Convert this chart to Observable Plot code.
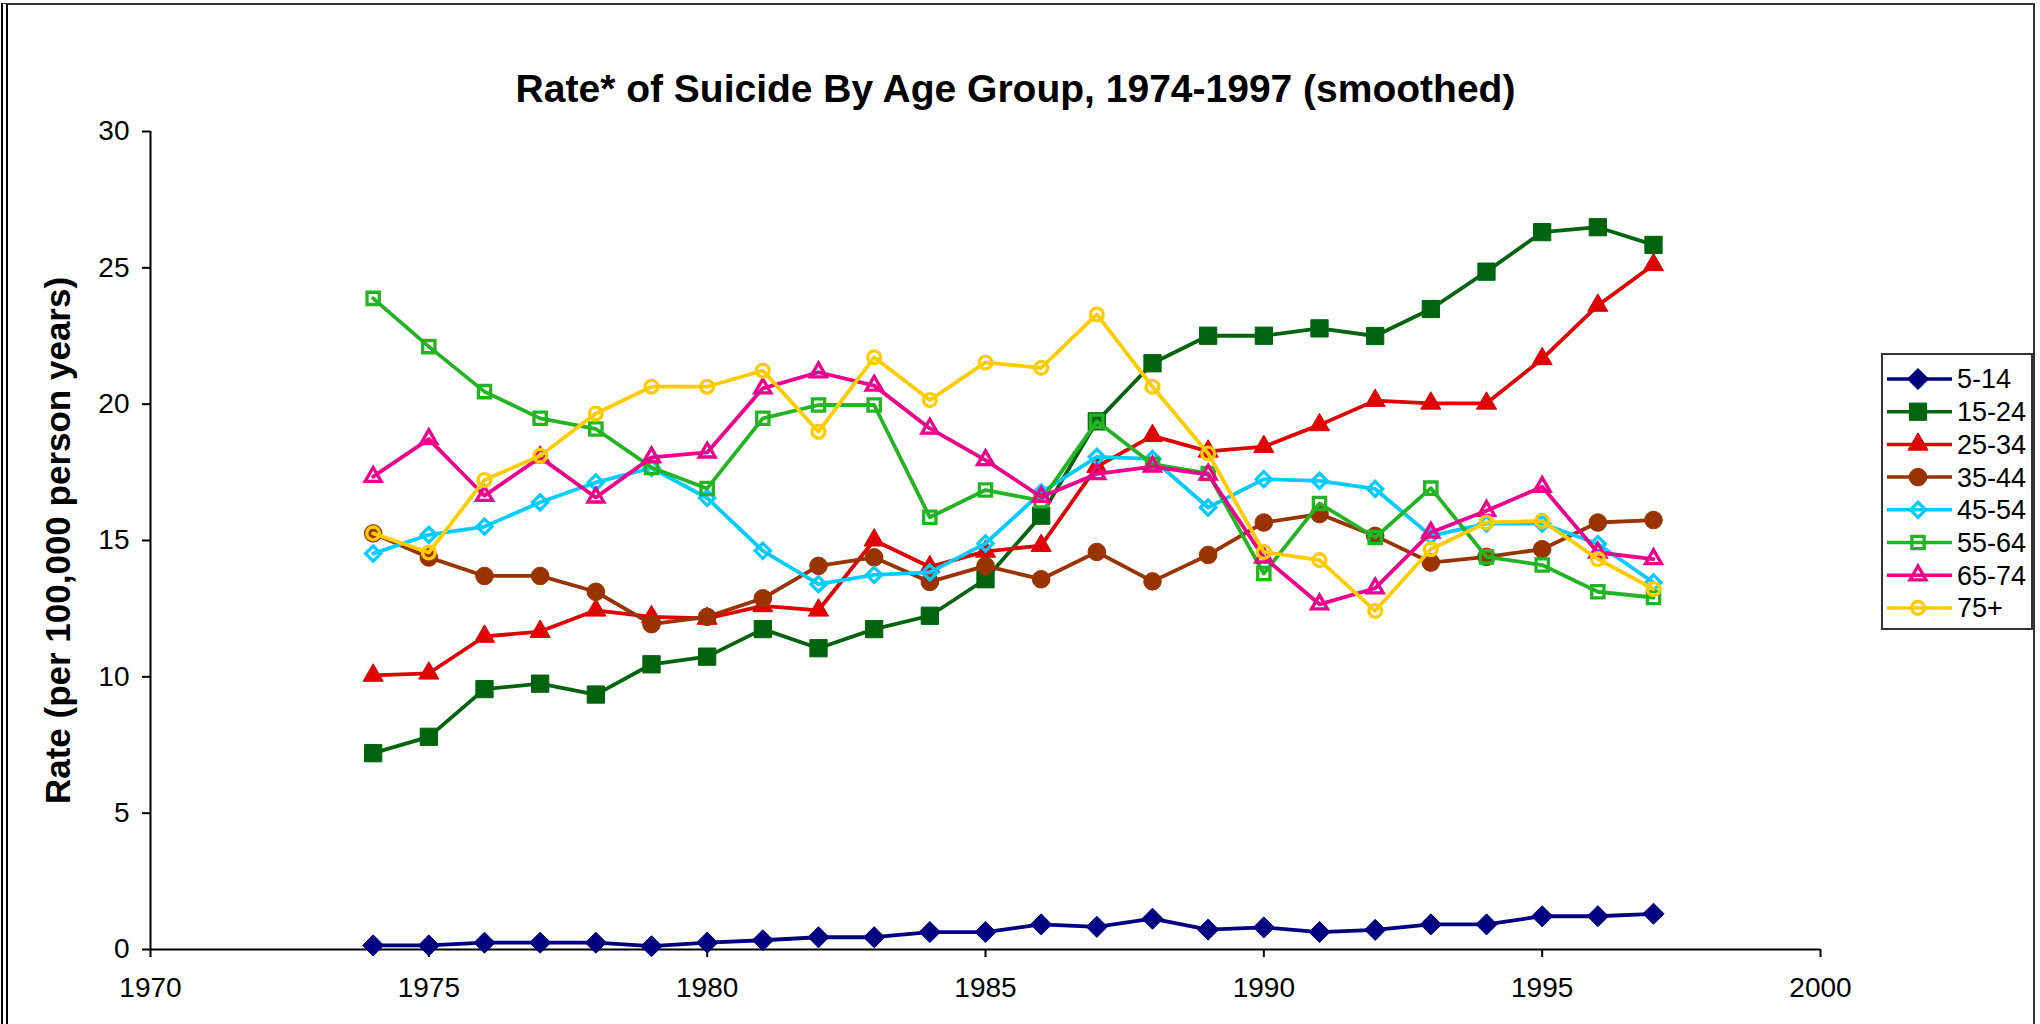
<!DOCTYPE html>
<html>
<head>
<meta charset="utf-8">
<script src="https://cdn.jsdelivr.net/npm/d3@7"></script>
<script src="https://cdn.jsdelivr.net/npm/@observablehq/plot@0.6"></script>
<style>
  html, body { margin: 0; padding: 0; background: #fff; }
  #fig { position: relative; width: 2040px; height: 1024px; overflow: hidden; background: #fff; font-family: 'Liberation Sans', Arial, sans-serif; }
  #frame { position: absolute; left: 1px; top: 3px; width: 2025px; height: 1040px; border-left: 7px double #000; border-top: 2px solid #333; border-right: 2px solid #333; }
  #chart { position: absolute; left: 0; top: 0; }
  #legend { position: absolute; left: 1881px; top: 353px; }
</style>
</head>
<body>
<div id="fig">
  <div id="frame"></div>
  <div id="chart"></div>
  <div id="legend"></div>
</div>
<script>
const title = "Rate* of Suicide By Age Group, 1974-1997 (smoothed)";
const yLabel = "Rate (per 100,000 person years)";

const years = [1974,1975,1976,1977,1978,1979,1980,1981,1982,1983,1984,1985,1986,1987,1988,1989,1990,1991,1992,1993,1994,1995,1996,1997];

const xTicks = [1970,1975,1980,1985,1990,1995,2000];
const yTicks = [0,5,10,15,20,25,30];

const seriesNames = ["5-14","15-24","25-34","35-44","45-54","55-64","65-74","75+"];

const s5_14  = [0.15,0.15,0.25,0.25,0.25,0.12,0.25,0.34,0.45,0.45,0.64,0.64,0.92,0.83,1.13,0.73,0.81,0.64,0.72,0.92,0.92,1.22,1.22,1.31];
const s15_24 = [7.2,7.8,9.55,9.75,9.35,10.46,10.74,11.75,11.05,11.75,12.24,13.58,15.91,19.37,21.5,22.51,22.51,22.78,22.5,23.49,24.86,26.31,26.49,25.84];
const s25_34 = [10.05,10.13,11.48,11.66,12.44,12.2,12.14,12.6,12.44,15.01,14.03,14.6,14.81,17.71,18.84,18.27,18.44,19.24,20.13,20.03,20.03,21.66,23.62,25.11];
const s35_44 = [15.26,14.38,13.7,13.7,13.12,11.93,12.2,12.88,14.07,14.38,13.48,14.07,13.58,14.58,13.5,14.47,15.66,15.97,15.17,14.19,14.4,14.68,15.66,15.75];
const s45_54 = [14.52,15.21,15.51,16.4,17.13,17.66,16.56,14.62,13.4,13.74,13.83,14.89,16.76,18.07,17.99,16.21,17.25,17.19,16.89,15.17,15.62,15.62,14.87,13.46];
const s55_64 = [23.88,22.11,20.46,19.48,19.09,17.68,16.91,19.48,19.97,19.97,15.85,16.85,16.46,19.37,17.8,17.46,13.79,16.36,15.11,16.92,14.4,14.1,13.12,12.91];
const s65_74 = [17.34,18.72,16.64,18.05,16.58,18.05,18.23,20.58,21.17,20.68,19.11,17.95,16.6,17.44,17.71,17.42,14.38,12.66,13.25,15.29,16.09,16.97,14.56,14.32];
const s75p   = [15.26,14.56,17.22,18.11,19.66,20.64,20.64,21.23,18.99,21.72,20.15,21.53,21.33,23.29,20.64,18.19,14.58,14.28,12.42,14.68,15.66,15.72,14.32,13.22];

const seriesValues = [s5_14, s15_24, s25_34, s35_44, s45_54, s55_64, s65_74, s75p];

// styles (colour, symbol, filled, radius)
const colors  = ["#000080","#00640f","#e00000","#993300","#00ccff","#22b422","#ec008c","#ffcc00"];
const symbols = ["diamond2","square2","triangle2","circle","diamond2","square2","triangle2","circle"];
const filled  = [true,true,true,true,false,false,false,false];
const radii   = [9.5,11,9.6,8.8,6.8,7.8,7.6,6.4];

const data = [];
seriesNames.forEach((name, i) => {
  years.forEach((yr, j) => data.push({series: name, year: yr, value: seriesValues[i][j]}));
});

const font = "'Liberation Sans', Arial, sans-serif";

const seriesMarks = [];
seriesNames.forEach((name, i) => {
  const d = data.filter(r => r.series === name);
  seriesMarks.push(Plot.lineY(d, {x: "year", y: "value", stroke: colors[i], strokeWidth: 3.8}));
  seriesMarks.push(Plot.dot(d, {
    x: "year", y: "value", symbol: symbols[i], r: radii[i],
    fill: filled[i] ? colors[i] : "none",
    stroke: colors[i], strokeWidth: filled[i] ? 1 : 3.3
  }));
});

const chart = Plot.plot({
  width: 2040,
  height: 1024,
  marginLeft: 150,
  marginRight: 220,
  marginTop: 131,
  marginBottom: 75,
  style: {fontFamily: font, background: "transparent", color: "#000"},
  x: {domain: [1970, 2000]},
  y: {domain: [0, 30]},
  marks: [
    Plot.axisX({ticks: xTicks, tickSize: 8, tickPadding: 20, fontSize: 28, label: null, tickFormat: d => String(d), strokeWidth: 2}),
    Plot.axisY({ticks: yTicks, tickSize: 8, tickPadding: 13, fontSize: 28, label: null, strokeWidth: 2}),
    Plot.ruleX([1970], {stroke: "#000", strokeWidth: 2}),
    Plot.ruleY([0], {stroke: "#000", strokeWidth: 2}),
    ...seriesMarks,
    Plot.text([title], {frameAnchor: "top", dy: -57, dx: 30, fontSize: 39, fontWeight: "bold", fill: "#000"}),
    Plot.text([yLabel], {frameAnchor: "left", textAnchor: "middle", rotate: -90, dx: -92, fontSize: 35, fontWeight: "bold", fill: "#000"})
  ]
});
document.getElementById("chart").appendChild(chart);

// Legend
const rowGap = 32.7, firstRow = 26;
const lw = 152, lh = Math.round(firstRow + rowGap * 7 + 22);
const lsvg = d3.select("#legend").append("svg")
  .attr("width", lw).attr("height", lh)
  .style("font-family", font);
lsvg.append("rect").attr("x", 1).attr("y", 1).attr("width", lw - 2).attr("height", lh - 2)
  .attr("fill", "#fff").attr("stroke", "#333").attr("stroke-width", 2);
const symMap = {diamond2: d3.symbolDiamond2, square2: d3.symbolSquare2, triangle2: d3.symbolTriangle2, circle: d3.symbolCircle};
seriesNames.forEach((name, i) => {
  const cy = firstRow + i * rowGap;
  const g = lsvg.append("g").attr("transform", `translate(0,${cy})`);
  g.append("line").attr("x1", 6).attr("x2", 71).attr("y1", 0).attr("y2", 0)
    .attr("stroke", colors[i]).attr("stroke-width", 3.5);
  g.append("path")
    .attr("d", d3.symbol(symMap[symbols[i]], Math.PI * radii[i] * radii[i])())
    .attr("transform", "translate(37,0)")
    .attr("fill", filled[i] ? colors[i] : "none")
    .attr("stroke", colors[i]).attr("stroke-width", filled[i] ? 1 : 3.3);
  g.append("text").attr("x", 76).attr("y", 0).attr("dy", "0.35em")
    .attr("font-size", 27).attr("fill", "#000").text(name);
});
</script>
</body>
</html>
